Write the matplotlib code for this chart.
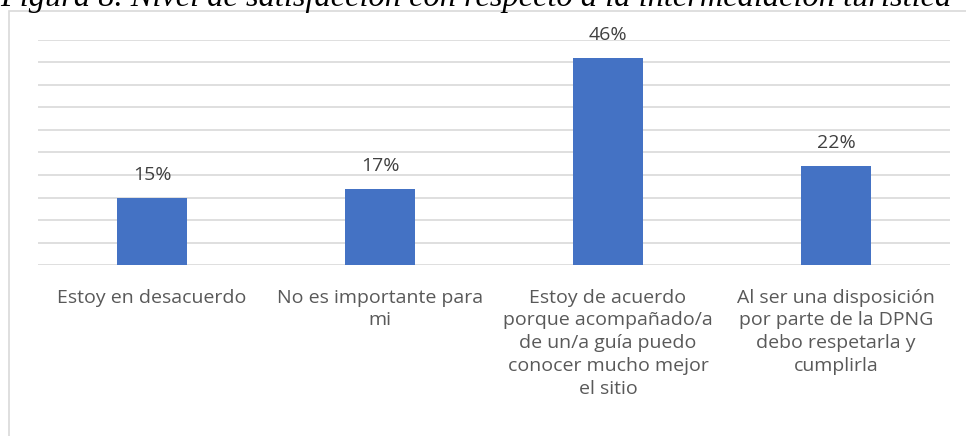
import matplotlib.pyplot as plt
from matplotlib.patches import Rectangle

# data
categorias = ['Estoy en desacuerdo',
              'No es importante para\nmi',
              'Estoy de acuerdo\nporque acompañado/a\nde un/a guía puedo\nconocer mucho mejor\nel sitio',
              'Al ser una disposición\npor parte de la DPNG\ndebo respetarla y\ncumplirla']
valores = [15, 17, 46, 22]
etiquetas = ['15%', '17%', '46%', '22%']

W, H = 966, 436
fig = plt.figure(figsize=(W / 100, H / 100), dpi=100)

# outer chart border (only top/left visible in the crop)
fig.patches.append(Rectangle((8.5 / W, -0.1), 1.1, (H - 11.5) / H + 0.1,
                             transform=fig.transFigure, fill=False,
                             edgecolor='#d9d9d9', linewidth=1.2))

# title, cut off at the top of the picture
fig.text(0.0, 1 - 6 / H, 'Figura 8. Nivel de satisfacción con respecto a la intermediación turística',
         family='Liberation Serif', style='italic', fontsize=23.3, ha='left', va='baseline',
         color='black')

ax = fig.add_axes([38 / W, 1 - 265 / H, 912 / W, 225 / H])
x = range(len(valores))
ax.bar(x, valores, width=0.31, color='#4472c4', zorder=3)
ax.set_xlim(-0.5, len(valores) - 0.5)
ax.set_ylim(0, 50)
ax.set_yticks(range(0, 51, 5))
ax.yaxis.grid(True, color='#d9d9d9', linewidth=1.2, zorder=0)
ax.tick_params(left=False, labelleft=False, bottom=False, labelbottom=False)
for s in ax.spines.values():
    s.set_visible(False)

for i, (v, t) in enumerate(zip(valores, etiquetas)):
    ax.annotate(t, (i, v), xytext=(0, 10), textcoords='offset points', ha='center',
                va='bottom', fontsize=14, color='#404040', family='Open Sans')

for i, c in enumerate(categorias):
    ax.annotate(c, (i, 0), xytext=(0, -17), textcoords='offset points', ha='center',
                va='top', fontsize=14, color='#595959', family='Open Sans',
                linespacing=1.34, annotation_clip=False)

plt.savefig('out.png', dpi=100)
